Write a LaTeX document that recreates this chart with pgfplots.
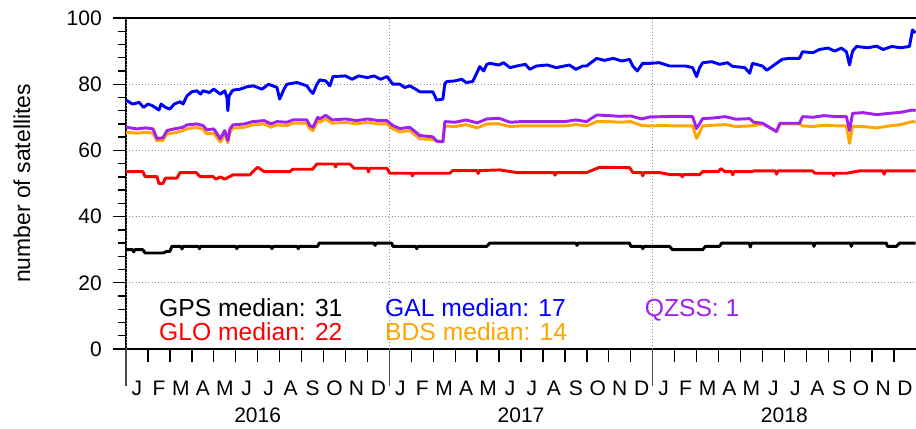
\documentclass[border=0pt]{standalone}
\usepackage{fontspec}
\setmainfont{Liberation Sans}
\usepackage{pgfplots}
\pgfplotsset{compat=1.18}
\definecolor{gmtorange}{RGB}{255,165,0}
\definecolor{gmtpurple}{RGB}{160,32,240}
\begin{document}
\begin{tikzpicture}
\begin{axis}[name=ax, scale only axis, width=592.5pt, height=248.25pt,
 xmin=0, xmax=36, ymin=0, ymax=100,
 axis lines*=left, axis line style={line width=2.2pt, -},
 clip mode=individual,
 /pgf/number format/assume math mode=true,
 tick align=outside, tick style={black, line width=1pt},
 major tick length=10pt, minor tick length=5.75pt,
 ytick={0,20,...,100}, minor y tick num=4,
 yticklabel style={anchor=east, inner sep=0pt, xshift=-8pt, font=\fontsize{15.75}{18}\selectfont},
 xtick={0,...,35},
 xticklabels={J,F,M,A,M,J,J,A,S,O,N,D,J,F,M,A,M,J,J,A,S,O,N,D,J,F,M,A,M,J,J,A,S,O,N,D},
 xticklabel style={anchor=north, inner sep=0pt, xshift=8.23pt, yshift=-14pt, font=\fontsize{15.75}{18}\selectfont},
 extra x ticks={0,12,24}, extra x tick labels={},
 extra x tick style={major tick length=28pt, grid=major, tick style={line width=0.8pt, black!70}},
 ymajorgrids, major grid style={black!45, dotted, line width=0.75pt},
 every axis plot/.append style={line width=2.2pt, line join=round},
]
% GPS
\addplot[black] coordinates {(0,30) (0.3,30) (0.35,29.3) (0.4,30) (0.77,30) (0.87,29) (1.68,29) (1.87,29.5) (2.0,29.5) (2.09,31) (2.5,31) (2.55,30.2) (2.6,31) (3.3,31) (3.35,30.3) (3.4,31) (5.0,31) (5.05,30.3) (5.1,31) (6.6,31) (6.65,30.3) (6.7,31) (7.8,31) (7.85,30.3) (7.9,31) (8.74,31) (8.8,32) (11.3,32) (11.35,31.3) (11.4,32) (12.11,32) (12.16,31) (13.2,31) (13.25,30.3) (13.3,31) (16.44,31) (16.58,32) (20.5,32) (20.55,31.3) (20.6,32) (22.95,32) (23.0,31) (23.5,31) (23.55,30.3) (23.6,31) (24.77,31) (24.9,30) (26.28,30) (26.4,31) (27.05,31) (27.14,32) (28.4,32) (28.45,30.8) (28.5,32) (31.3,32) (31.35,31) (31.4,32) (33.0,32) (33.05,31) (33.1,32) (34.65,32) (34.7,31) (35.11,31) (35.25,32) (35.98,32)};
% GLO
\addplot[red] coordinates {(0,53.6) (0.77,53.6) (0.87,52.1) (1.41,52.1) (1.5,50) (1.68,50) (1.8,51.6) (2.32,51.6) (2.46,53.3) (3.2,53.3) (3.37,52.1) (3.96,52.1) (4.1,51.3) (4.3,52) (4.5,51.3) (4.87,52.6) (5.65,52.6) (5.78,53.6) (6.0,54.9) (6.3,53.6) (7.47,53.6) (7.6,54.3) (8.5,54.3) (8.70,55.9) (9.5,55.9) (9.55,55) (9.6,55.9) (10.2,55.9) (10.4,54.6) (11.0,54.6) (11.05,53.5) (11.1,54.6) (11.89,54.6) (12.02,53.1) (13.0,53.1) (13.05,52.3) (13.1,53.1) (14.75,53.1) (14.89,53.9) (16.0,53.9) (16.05,53) (16.1,53.9) (17.03,54.1) (17.81,53.3) (19.5,53.3) (19.55,52.5) (19.6,53.3) (20.99,53.3) (21.58,54.9) (22.95,54.8) (23.1,53.3) (23.5,53.3) (23.55,52.3) (23.6,53.3) (24.32,53.3) (24.77,52.7) (25.3,52.7) (25.35,52) (25.4,52.7) (26.14,52.7) (26.28,53.6) (27.0,53.6) (27.1,54.5) (27.3,53.6) (27.6,53.6) (27.65,52.6) (27.7,53.6) (28.55,53.6) (28.6,53.8) (29.6,53.8) (29.65,52.8) (29.7,53.8) (31.28,53.8) (31.4,53.1) (32.2,53.1) (32.25,52.4) (32.3,53.1) (32.83,53.1) (33.42,53.8) (34.5,53.8) (34.55,52.8) (34.6,53.8) (35.98,53.8)};
% GAL
\addplot[blue] coordinates {(0,75.2) (0.3,74) (0.6,74.5) (0.8,73) (1.0,74) (1.2,73.5) (1.5,72.2) (1.6,74) (1.8,73) (2.0,72.5) (2.2,74) (2.46,74.7) (2.6,74) (2.78,76.5) (3.0,77.7) (3.23,78) (3.4,77) (3.51,78) (3.8,77.5) (4.0,78.5) (4.3,77) (4.5,78) (4.6,76) (4.64,72) (4.7,76.5) (4.87,78.2) (5.2,78.5) (5.5,79.2) (5.8,79.5) (6.2,78.5) (6.5,80) (6.88,79) (7.0,75.5) (7.2,78.5) (7.33,80) (7.8,80.5) (8.24,79.5) (8.4,78) (8.52,77.2) (8.7,80) (8.83,81.3) (9.1,81) (9.29,79.5) (9.43,82.3) (10,82.5) (10.3,81.5) (10.6,82.5) (11,82) (11.3,82.5) (11.6,81.5) (11.9,82.3) (12.16,80) (12.48,80) (12.7,79) (12.93,79.5) (13.2,78.5) (13.39,77.7) (13.98,77.7) (14.16,75.2) (14.44,75.5) (14.53,80.2) (14.62,80.8) (15,81) (15.3,81.5) (15.5,80.5) (15.8,80.8) (15.98,83.3) (16.12,85.3) (16.3,84) (16.44,86) (16.58,86.3) (17,85.8) (17.2,86.5) (17.5,85) (17.81,85.5) (18.2,86) (18.4,84.5) (18.7,85.5) (19.2,85.8) (19.6,85) (20.2,85.8) (20.5,84.5) (20.81,85.5) (20.99,85.5) (21.45,87.8) (21.8,87.2) (22.2,87.8) (22.6,87) (22.95,87.5) (23.09,85.5) (23.3,84) (23.54,86.3) (23.86,86.3) (24.3,86.5) (24.77,85.5) (25.5,85.5) (25.82,85) (26.0,82.3) (26.14,85) (26.28,86.5) (26.7,86.8) (27.05,86) (27.4,86.5) (27.64,85.4) (28.2,85) (28.42,83.3) (28.55,86.3) (29.0,85.5) (29.2,84.2) (29.64,86.3) (29.9,87.5) (30.2,87.8) (30.69,87.8) (30.83,89.8) (31.3,89.5) (31.6,90.5) (32.0,90.9) (32.3,90) (32.6,90.9) (32.83,89.8) (32.97,85.8) (33.11,90) (33.29,91.4) (33.8,91) (34.2,91.5) (34.5,90.5) (34.9,91.4) (35.3,91) (35.7,91.4) (35.84,96.4) (35.98,95.5)};
% BDS
\addplot[gmtorange] coordinates {(0,65.5) (0.5,65.2) (0.9,65.5) (1.23,65.2) (1.41,62.9) (1.68,63) (1.87,65) (2.2,65.3) (2.6,66) (2.78,66.5) (3.23,67) (3.51,66.3) (3.69,65) (4.0,65.2) (4.3,62.5) (4.5,65) (4.64,62.3) (4.74,65.5) (4.87,66.7) (5.4,67) (5.78,67.7) (6.3,68) (6.6,67) (6.88,67.7) (7.33,67.5) (7.6,68.2) (8.24,68.2) (8.38,66.5) (8.52,66) (8.74,69) (8.83,68.5) (9.1,69.5) (9.4,68.2) (10.0,68.5) (10.5,68) (11.0,68.5) (11.5,68) (11.89,68) (12.16,66.5) (12.48,65.6) (12.93,66) (13.39,63.5) (13.98,63.3) (14.16,62.8) (14.44,62.6) (14.53,67.4) (15.0,67.2) (15.5,67.8) (16.0,66.8) (16.44,68) (17.0,68) (17.5,67.2) (18,67.4) (19,67.4) (20,67.4) (20.5,67.8) (20.99,67.4) (21.45,68.7) (22.0,68.7) (22.5,68.5) (23.0,68.7) (23.5,67.5) (23.86,67.4) (24.5,67.5) (25.0,67.4) (25.82,67.4) (26.0,63.6) (26.28,67.4) (26.8,67.6) (27.3,67.8) (27.8,67.2) (28.42,67.4) (28.6,67.5) (29.01,68) (29.64,65.7) (29.8,68) (30.69,68) (30.83,67.4) (31.3,67.2) (31.8,67.6) (32.4,67.4) (32.83,67.4) (32.97,62.1) (33.11,67.2) (33.6,67.2) (34.2,66.8) (34.8,67.4) (35.3,67.8) (35.84,68.7) (35.98,68.5)};
% QZSS
\addplot[gmtpurple] coordinates {(0,67) (0.5,66.5) (0.9,66.8) (1.23,66.5) (1.41,63.6) (1.68,63.8) (1.87,66) (2.2,66.5) (2.6,67) (2.78,67.7) (3.23,68) (3.51,67.5) (3.69,66.2) (4.0,66.5) (4.3,63.5) (4.5,66) (4.64,63) (4.74,66.5) (4.87,67.7) (5.4,68) (5.78,68.7) (6.3,69) (6.6,68) (6.88,68.7) (7.33,68.5) (7.6,69.2) (8.24,69.2) (8.38,67.5) (8.52,67) (8.74,70) (8.83,69.5) (9.1,70.6) (9.4,69.2) (10.0,69.5) (10.5,69) (11.0,69.5) (11.5,69) (11.89,69) (12.16,67.5) (12.48,66.6) (12.93,67) (13.39,64.5) (13.98,64.1) (14.16,62.8) (14.44,62.6) (14.53,68.7) (15.0,68.5) (15.5,69.2) (16.0,68.3) (16.44,69.5) (17.0,69.7) (17.5,68.5) (18,68.7) (19,68.7) (20,68.7) (20.5,69.2) (20.99,68.7) (21.45,70.7) (22.0,70.5) (22.5,70.3) (23.0,70.4) (23.5,69.5) (23.86,70.1) (24.5,70.2) (25.0,70.3) (25.82,70.2) (26.0,66.6) (26.28,69.6) (26.8,69.8) (27.3,70.2) (27.8,69.4) (28.42,69.6) (28.6,68.5) (29.01,68.2) (29.64,65.7) (29.8,68.2) (30.69,68.2) (30.83,70.2) (31.3,70) (31.8,70.5) (32.4,70.2) (32.83,70.2) (32.97,66) (33.11,71.2) (33.6,71.4) (34.2,70.8) (34.8,71.2) (35.3,71.5) (35.84,72.2) (35.98,72)};
\draw[line width=2.2pt] ([xshift=-1.1pt]rel axis cs:0,1) -- (rel axis cs:1,1);
\begin{scope}[every node/.style={anchor=base west, inner sep=0pt, font=\fontsize{18.5}{22}\selectfont}]
\node[black] at (axis cs:1.5,9.7) {GPS median: 31};
\node[red] at (axis cs:1.5,2.7) {GLO median: 22};
\node[blue] at (axis cs:11.8,9.7) {GAL median: 17};
\node[gmtorange] at (axis cs:11.8,2.7) {BDS median: 14};
\node[gmtpurple] at (axis cs:23.63,9.7) {QZSS: 1};
\end{scope}
\begin{scope}[every node/.style={anchor=base, inner sep=0pt, font=\fontsize{15.75}{18}\selectfont}]
\node at ([yshift=-54.75pt]axis cs:6,0) {2016};
\node at ([yshift=-54.75pt]axis cs:18,0) {2017};
\node at ([yshift=-54.75pt]axis cs:30,0) {2018};
\end{scope}
\end{axis}
\node[rotate=90, font=\fontsize{17.2}{20}\selectfont] at ([xshift=-78pt]ax.west) {number of satellites};
\pgfresetboundingbox
\path ([shift={(-94.5pt,-59.25pt)}]ax.south west) rectangle ([shift={(0pt,13.5pt)}]ax.north east);
\end{tikzpicture}
\end{document}
